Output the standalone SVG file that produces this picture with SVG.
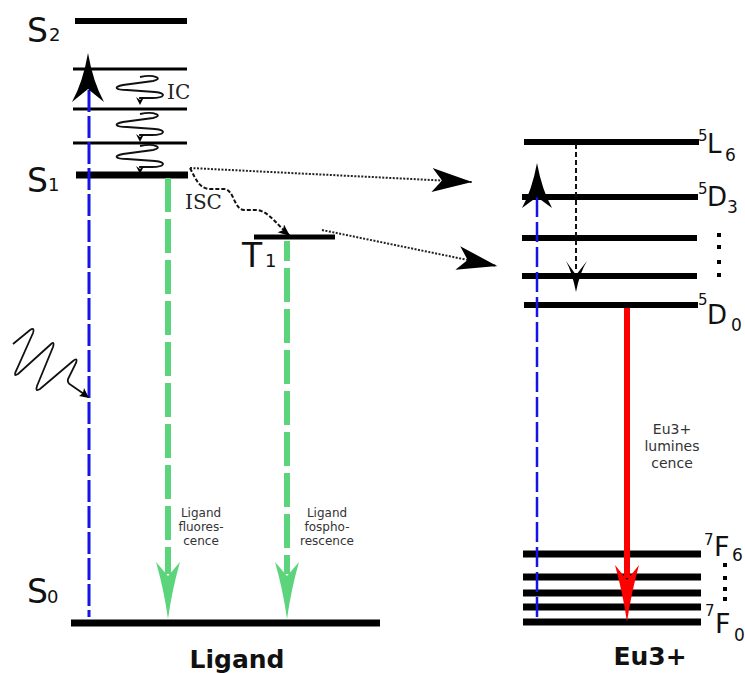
<svg xmlns="http://www.w3.org/2000/svg" width="745" height="673" viewBox="0 0 745 673">
<style>
.lvl{stroke:#000;fill:none}
.thick{stroke-width:6}
.thin{stroke-width:3}
.big{font-family:"DejaVu Sans",Verdana,sans-serif;fill:#111}
.ser{font-family:"DejaVu Serif","Liberation Serif",serif;fill:#222;font-size:20px}
.small{font-family:"DejaVu Sans",Verdana,sans-serif;fill:#333;text-anchor:middle}
.bold{font-family:"DejaVu Sans",Verdana,sans-serif;font-weight:bold;fill:#111;font-size:25px}
.blue{stroke:#1414e6;fill:none;stroke-dasharray:22 4}
.green{stroke:#5cd47c;fill:none;stroke-width:6;stroke-dasharray:34 7}
.dot{stroke:#222;fill:none;stroke-width:2;stroke-dasharray:2 1.5}
.sq{stroke:#111;fill:none;stroke-width:1.8}
</style>
<defs>
<marker id="stealth" markerUnits="userSpaceOnUse" markerWidth="44" markerHeight="26" refX="40" refY="12" orient="auto">
<path d="M0 0 L40 12 L0 24 L10 12 Z" fill="#000"/>
</marker>
<marker id="small" markerUnits="userSpaceOnUse" markerWidth="14" markerHeight="12" refX="12" refY="5" orient="auto">
<path d="M0 0 L12 5 L0 10 L3 5 Z" fill="#000"/>
</marker>
<g id="squig">
<path class="sq" d="M0 0 C15 -3 24 2 13 4 L-17 8 C-27 10 -25 13 -13 13 L15 15 C27 16 25 21 12 21 L0 21 L0 22"/>
<path d="M0 28 L4 20 L0 23 L-4 20 Z" fill="#000"/>
</g>
</defs>

<!-- Ligand levels -->
<g id="S2"><line class="lvl thick" x1="75" y1="21" x2="187" y2="21"/><text class="big" x="27" y="42" font-size="33">S</text><text class="big" x="49" y="41" font-size="18">2</text></g>
<g id="S2v1"><line class="lvl thin" x1="73" y1="69" x2="187" y2="69"/></g>
<g id="S2v2"><line class="lvl thin" x1="73" y1="109" x2="187" y2="109"/></g>
<g id="S2v3"><line class="lvl thin" x1="73" y1="143" x2="187" y2="143"/></g>
<g id="S1"><line class="lvl" stroke-width="7" x1="76" y1="175" x2="188" y2="175"/><text class="big" x="27" y="192" font-size="33">S</text><text class="big" x="48" y="191" font-size="18">1</text></g>
<g id="T1"><line class="lvl" stroke-width="5" x1="254" y1="237" x2="335" y2="237"/><text class="big" x="242" y="267" font-size="33">T</text><text class="big" x="265" y="267" font-size="18">1</text></g>
<g id="S0"><line class="lvl" stroke-width="7" x1="71" y1="623" x2="380" y2="623"/><text class="big" x="27" y="603" font-size="33">S</text><text class="big" x="47" y="603" font-size="18">0</text></g>
<g id="ligand-label"><text class="bold" x="237" y="668" text-anchor="middle">Ligand</text></g>

<!-- Eu3+ levels -->
<g id="L6"><line class="lvl thick" x1="524" y1="142" x2="699" y2="142"/><text class="big" x="698" y="141" font-size="15">5</text><text class="big" x="707" y="153" font-size="26">L</text><text class="big" x="725" y="161" font-size="17">6</text></g>
<g id="D3"><line class="lvl thick" x1="522" y1="197" x2="698" y2="197"/><text class="big" x="698" y="194" font-size="15">5</text><text class="big" x="707" y="206" font-size="26">D</text><text class="big" x="727" y="213" font-size="17">3</text></g>
<g id="D2"><line class="lvl thick" x1="522" y1="238" x2="697" y2="238"/></g>
<g id="D1"><line class="lvl thick" x1="522" y1="276" x2="697" y2="276"/></g>
<g id="Ddots" fill="#000"><rect x="717" y="233" width="4" height="4"/><rect x="717" y="245" width="4" height="4"/><rect x="717" y="260" width="4" height="4"/><rect x="717" y="273" width="4" height="4"/></g>
<g id="D0"><line class="lvl thick" x1="524" y1="305" x2="698" y2="305"/><text class="big" x="698" y="305" font-size="15">5</text><text class="big" x="707" y="324" font-size="26">D</text><text class="big" x="731" y="331" font-size="17">0</text></g>
<g id="F6"><line class="lvl" stroke-width="7" x1="523" y1="554" x2="701" y2="554"/><text class="big" x="704" y="545" font-size="15">7</text><text class="big" x="714" y="556" font-size="27">F</text><text class="big" x="732" y="561" font-size="17">6</text></g>
<g id="F5"><line class="lvl" stroke-width="7" x1="523" y1="577" x2="701" y2="577"/></g>
<g id="F4"><line class="lvl" stroke-width="7" x1="523" y1="593" x2="701" y2="593"/></g>
<g id="F3"><line class="lvl" stroke-width="7" x1="523" y1="607" x2="701" y2="607"/></g>
<g id="Fdots" fill="#000"><rect x="723" y="563" width="4" height="4"/><rect x="723" y="576" width="4" height="4"/><rect x="723" y="587" width="4" height="4"/><rect x="723" y="597" width="4" height="4"/></g>
<g id="F0"><line class="lvl" stroke-width="7" x1="523" y1="622" x2="701" y2="622"/><text class="big" x="705" y="616" font-size="15">7</text><text class="big" x="715" y="633" font-size="27">F</text><text class="big" x="734" y="641" font-size="17">0</text></g>
<g id="eu-label"><text class="bold" x="650" y="665" text-anchor="middle">Eu3+</text></g>

<!-- connectors -->
<g id="connectors">
<line class="blue" stroke-width="3" x1="89" y1="90" x2="89" y2="617"/>
<path d="M88 53 Q93 82 104 102 L88 89 L72 102 Q83 82 88 53 Z" fill="#000"/>
<line class="blue" stroke-width="2.5" x1="537" y1="197" x2="537" y2="622" style="stroke-dasharray:20 5"/>
<path d="M537 163 Q542 190 552 208 L537 197 L522 208 Q532 190 537 163 Z" fill="#000"/>
<path class="sq" d="M13 344 L30 330 Q35 327 33 333 L16 371 Q13 377 18 374 L50 345 Q55 340 53 347 L37 386 Q35 392 40 389 L73 361 Q78 357 76 363 L68 379 Q67 383 71 385 L84 394"/>
<path d="M89 398 L79 396 L83 393 L84 388 Z" fill="#000"/>
<use href="#squig" x="140" y="77"/>
<use href="#squig" x="140" y="114"/>
<use href="#squig" x="140" y="146"/>
<text class="ser" x="167" y="99">IC</text>
<path d="M190 168 C196 180 200 189 210 189 L224 189 C234 189 234 210 244 210 L256 210 C268 210 278 226 290 236" fill="none" stroke="#111" stroke-width="2" stroke-dasharray="4 2" marker-end="url(#small)"/>
<text class="ser" x="185" y="209">ISC</text>
<line class="dot" x1="190" y1="168" x2="472" y2="182" marker-end="url(#stealth)"/>
<line class="dot" x1="322" y1="230" x2="497" y2="266" marker-end="url(#stealth)"/>
<line x1="576" y1="144" x2="576" y2="272" stroke="#111" stroke-width="2" stroke-dasharray="5 3"/>
<path d="M576 292 Q580 272 587 261 L576 275 L566 261 Q572 272 576 292 Z" fill="#000"/>
<line class="green" x1="168" y1="178" x2="168" y2="574"/>
<path d="M168 619 Q172 590 180 562 L168 576 L156 562 Q164 590 168 619 Z" fill="#5cd47c"/>
<text class="small" font-size="12"><tspan x="201" y="517">Ligand</tspan><tspan x="201" y="531">fluores-</tspan><tspan x="201" y="545">cence</tspan></text>
<line class="green" x1="287" y1="241" x2="287" y2="574" style="stroke-dashoffset:14"/>
<path d="M287 619 Q291 590 299 562 L287 576 L275 562 Q283 590 287 619 Z" fill="#5cd47c"/>
<text class="small" font-size="12"><tspan x="327" y="517">Ligand</tspan><tspan x="327" y="531">fospho-</tspan><tspan x="327" y="545">rescence</tspan></text>
<line x1="627" y1="308" x2="627" y2="578" stroke="#ff0000" stroke-width="6"/>
<path d="M627 622 Q631 594 639 565 L627 580 L615 565 Q623 594 627 622 Z" fill="#ff0000"/>
<text class="small" font-size="14"><tspan x="672" y="434">Eu3+</tspan><tspan x="672" y="451">lumines</tspan><tspan x="672" y="468">cence</tspan></text>
</g>
</svg>
